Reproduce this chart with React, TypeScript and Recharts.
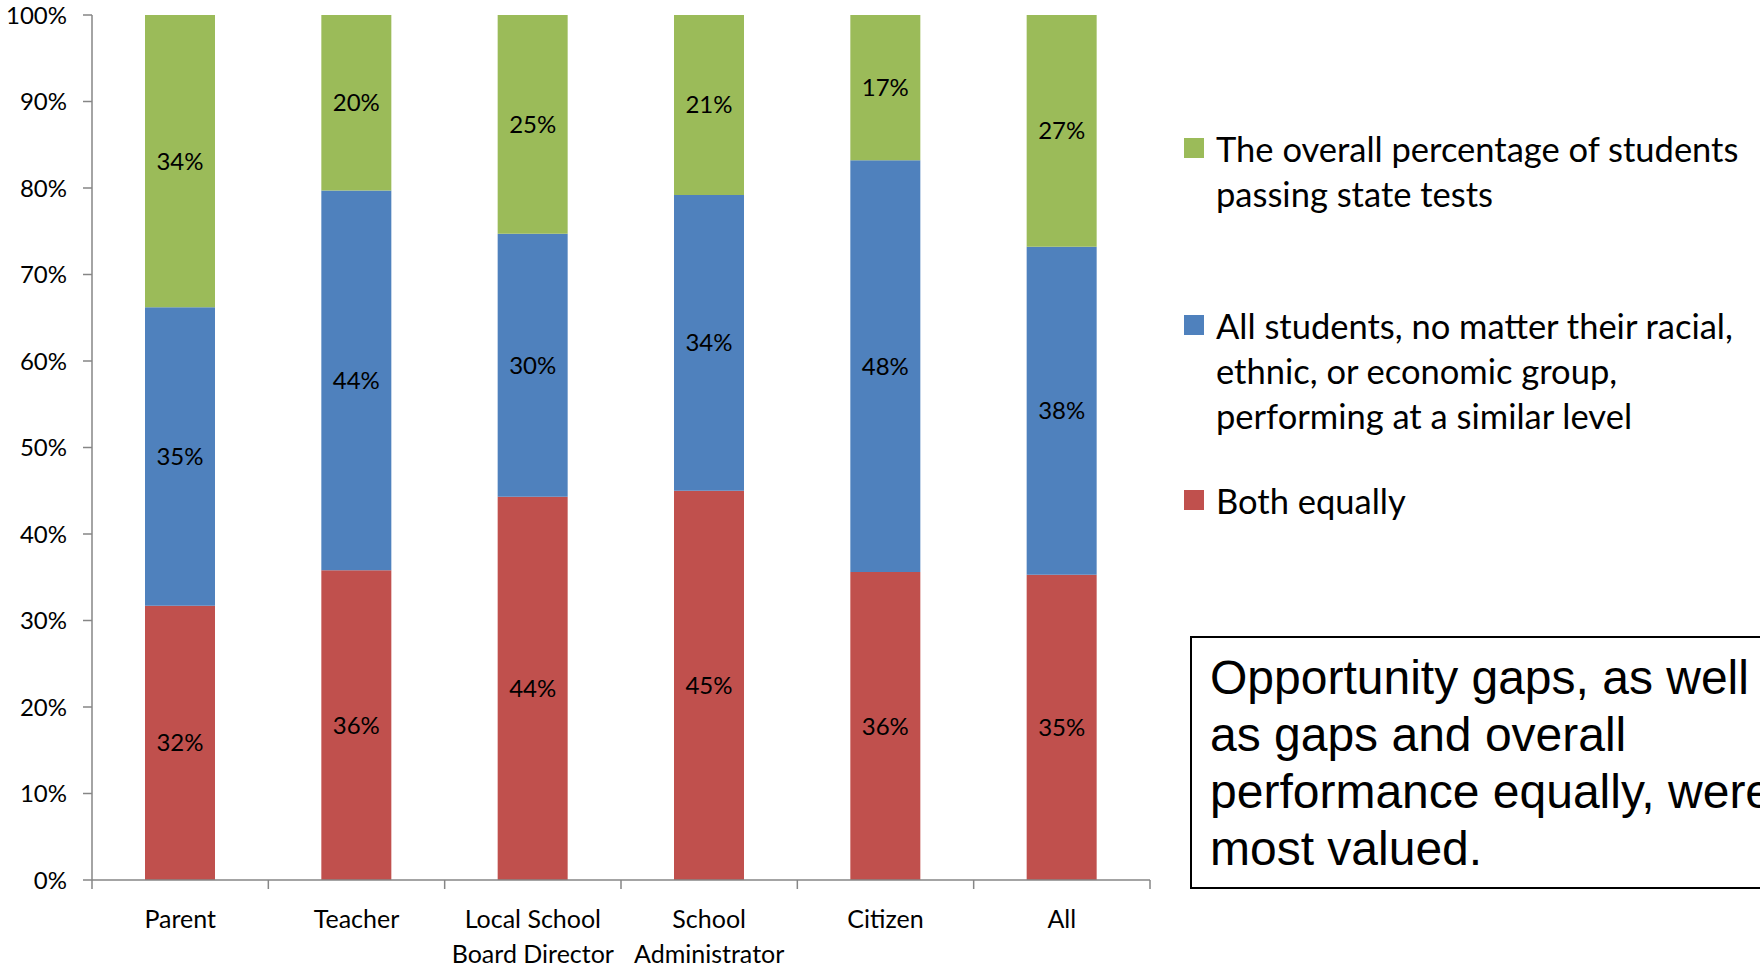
import { BarChart, Bar, XAxis, YAxis, Legend, LabelList } from 'recharts';

const categories = ['Parent', 'Teacher', 'Local School Board Director', 'School Administrator', 'Citizen', 'All'];
const categoryLines: Record<string, string[]> = {
  Parent: ['Parent'],
  Teacher: ['Teacher'],
  'Local School Board Director': ['Local School', 'Board Director'],
  'School Administrator': ['School', 'Administrator'],
  Citizen: ['Citizen'],
  All: ['All'],
};

const bothEqually = [31.7, 35.8, 44.3, 45.0, 35.6, 35.3];
const allStudents = [34.5, 43.9, 30.4, 34.2, 47.6, 37.9];
const overallPassing = [33.8, 20.3, 25.3, 20.8, 16.8, 26.8];

const yTicks = [0, 10, 20, 30, 40, 50, 60, 70, 80, 90, 100];

const series = [
  { key: 'both', name: 'Both equally', lines: ['Both equally'], color: '#C0504D' },
  { key: 'all', name: 'All students', lines: ['All students, no matter their racial,', 'ethnic, or economic group,', 'performing at a similar level'], color: '#4F81BD' },
  { key: 'overall', name: 'Overall passing', lines: ['The overall percentage of students', 'passing state tests'], color: '#9BBB59' },
];

const data = categories.map((name, i) => ({
  name,
  both: bothEqually[i],
  all: allStudents[i],
  overall: overallPassing[i],
}));

const AXIS_GRAY = '#868686';
const FONT = 'Lato, "Noto Sans", sans-serif';

function CategoryTick(props: any) {
  const { x, y, payload, index, width, visibleTicksCount } = props;
  const half = payload?.offset || width / visibleTicksCount / 2;
  const lines = categoryLines[payload.value] || [payload.value];
  return (
    <g>
      <line x1={x - half} x2={x - half} y1={y} y2={y + 9} stroke={AXIS_GRAY} strokeWidth={1.5} />
      {index === visibleTicksCount - 1 && (
        <line x1={x + half} x2={x + half} y1={y} y2={y + 9} stroke={AXIS_GRAY} strokeWidth={1.5} />
      )}
      {lines.map((t, i) => (
        <text key={i} x={x} y={y + 38 + i * 35} textAnchor="middle" dominantBaseline="central" fontSize={25} fill="#000">
          {t}
        </text>
      ))}
    </g>
  );
}

const legendGaps = [0, 87, 40];

function LegendContent() {
  const items = [...series].reverse();
  return (
    <div style={{ fontFamily: FONT }}>
      {items.map((s, i) => (
        <div key={s.key} style={{ position: 'relative', marginTop: legendGaps[i], paddingLeft: 32 }}>
          <div style={{ position: 'absolute', left: 0, top: 12, width: 20, height: 20, background: s.color }} />
          {s.lines.map((l, j) => (
            <div key={j} style={{ fontSize: 34.5, lineHeight: '45px', color: '#000', whiteSpace: 'nowrap' }}>
              {l}
            </div>
          ))}
        </div>
      ))}
    </div>
  );
}

export default function App() {
  return (
    <div
      style={{
        position: 'absolute',
        left: 0,
        top: 0,
        width: 1760,
        height: 968,
        overflow: 'hidden',
        background: '#fff',
        fontFamily: FONT,
      }}
    >
      <BarChart width={1760} height={968} data={data} margin={{ top: 15, right: 610, bottom: 0, left: 0 }}>
        <XAxis
          dataKey="name"
          height={88}
          axisLine={{ stroke: AXIS_GRAY, strokeWidth: 1.5 }}
          tickLine={false}
          tickSize={0}
          tickMargin={0}
          interval={0}
          tick={<CategoryTick />}
        />
        <YAxis
          width={92}
          domain={[0, 100]}
          ticks={yTicks}
          interval={0}
          tickFormatter={(v: number) => `${v}%`}
          axisLine={{ stroke: AXIS_GRAY, strokeWidth: 1.5 }}
          tickLine={{ stroke: AXIS_GRAY, strokeWidth: 1.5 }}
          tickSize={9}
          tickMargin={16}
          tick={{ fill: '#000', fontSize: 24 }}
        />
        <Legend
          layout="vertical"
          align="center"
          verticalAlign="middle"
          content={<LegendContent />}
          wrapperStyle={{ left: 1184, top: 126, width: 576, bottom: 'auto', right: 'auto' }}
        />
        {series.map((s) => (
          <Bar key={s.key} dataKey={s.key} name={s.name} stackId="a" fill={s.color} barSize={70} isAnimationActive={false}>
            <LabelList
              dataKey={s.key}
              position="center"
              formatter={(v: any) => `${Math.round(Number(v))}%`}
              fill="#000"
              fontSize={24}
            />
          </Bar>
        ))}
      </BarChart>
      <div
        style={{
          position: 'absolute',
          left: 1190,
          top: 636,
          width: 700,
          height: 253,
          border: '2px solid #000',
          padding: '11px 0 0 18px',
          boxSizing: 'border-box',
          fontFamily: '"Liberation Sans", Arial, sans-serif',
          fontSize: 48,
          lineHeight: '57px',
          color: '#000',
          whiteSpace: 'nowrap',
        }}
      >
        Opportunity gaps, as well
        <br />
        as gaps and overall
        <br />
        performance equally, were
        <br />
        most valued.
      </div>
    </div>
  );
}
